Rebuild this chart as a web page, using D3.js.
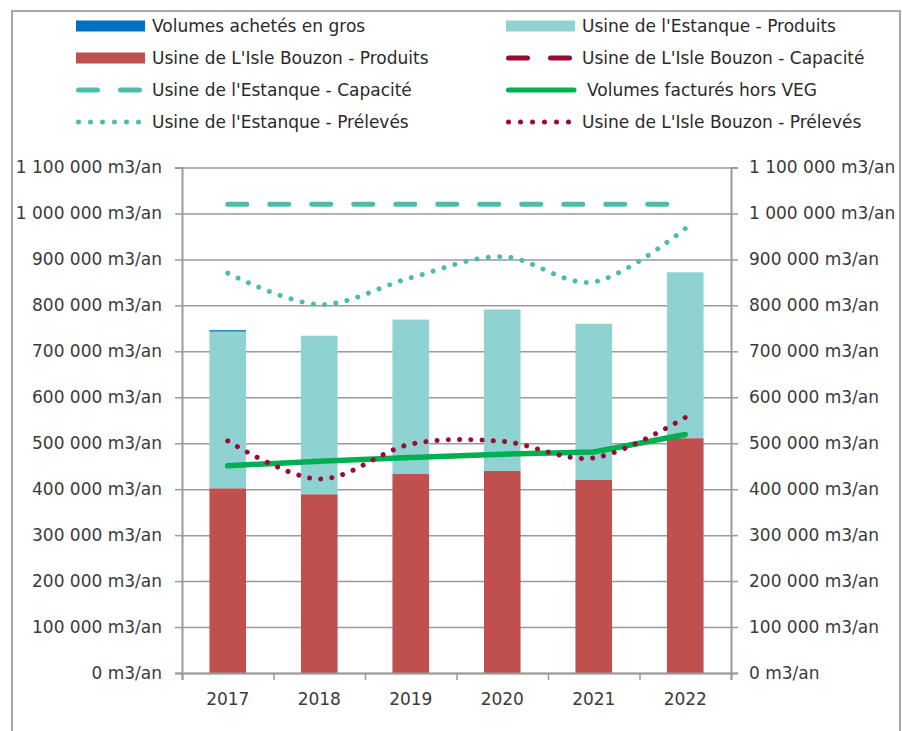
<!DOCTYPE html>
<html lang="fr">
<head>
<meta charset="UTF-8">
<title>Volumes produits et prélevés</title>
<script src="https://d3js.org/d3.v7.min.js"></script>
<style>
    body, html {
        margin: 0;
        padding: 0;
        background: #ffffff;
        overflow: hidden;
    }
    svg {
        font-family: "DejaVu Sans", sans-serif;
    }
    .tick text {
        font-size: 17px;
        fill: #3a3a3a;
    }
    .legend text {
        font-size: 17px;
        fill: #2a2a2a;
    }
</style>
</head>
<body>
<div id="chart"></div>
<script>
// categories
const years = ["2017", "2018", "2019", "2020", "2021", "2022"];

// bars (stacked, bottom to top)
const isleProduits = [402000, 389000, 433000, 440000, 420000, 511000];
const estanqueProduits = [341000, 345000, 336000, 351000, 340000, 361000];
const volumesGros = [3000, 0, 0, 0, 0, 0];

// lines
const estanqueCapacite = [1020000, 1020000, 1020000, 1020000, 1020000, 1020000];
const isleCapacite = [null, null, null, null, null, null]; // not visible on the chart
const volumesFactures = [451000, 461000, 469000, 476000, 481000, 519000];
const estanquePreleves = [870000, 802000, 860000, 906000, 851000, 967000];
const islePreleves = [505000, 422000, 498000, 504000, 468000, 556000];

// axis ticks
const yTicks = d3.range(0, 1100001, 100000);

const width = 902, height = 731;
const plotLeft = 182, plotRight = 731, plotTop = 167.5, plotBottom = 673;

const svg = d3.select("#chart").append("svg")
    .attr("width", width)
    .attr("height", height);

// outer frame
svg.append("rect")
    .attr("x", 12).attr("y", 11)
    .attr("width", 888).attr("height", 740)
    .attr("fill", "none")
    .attr("stroke", "#8c8c8c")
    .attr("stroke-width", 1.5);

const x = d3.scaleBand()
    .domain(years)
    .range([plotLeft, plotRight])
    .paddingInner(0.6)
    .paddingOuter(0.3);

const xEdges = d3.scaleLinear().domain([0, years.length]).range([plotLeft, plotRight]);

const y = d3.scaleLinear()
    .domain([0, 1100000])
    .range([plotBottom, plotTop]);

const fr = d3.formatLocale({ decimal: ",", thousands: " ", grouping: [3], currency: ["", ""] });
const fmt = v => fr.format(",")(v) + " m3/an";

// gridlines
svg.append("g")
    .attr("transform", `translate(${plotLeft},0)`)
    .call(d3.axisLeft(y).tickValues(yTicks).tickSize(-(plotRight - plotLeft)).tickFormat(""))
    .call(g => g.select(".domain").remove())
    .call(g => g.selectAll("line").attr("stroke", "#9a9a9a").attr("stroke-width", 1.5));

// left axis
svg.append("g")
    .attr("transform", `translate(${plotLeft},0)`)
    .call(d3.axisLeft(y).tickValues(yTicks).tickSize(7).tickPadding(13).tickFormat(fmt))
    .call(g => g.select(".domain").attr("stroke", "#9a9a9a").attr("stroke-width", 2))
    .call(g => g.selectAll(".tick line").attr("stroke", "#9a9a9a").attr("stroke-width", 1.5))
    .call(g => g.attr("font-family", null).attr("font-size", null));

// right axis
svg.append("g")
    .attr("transform", `translate(${plotRight},0)`)
    .call(d3.axisRight(y).tickValues(yTicks).tickSize(7).tickPadding(11).tickFormat(fmt))
    .call(g => g.select(".domain").attr("stroke", "#9a9a9a").attr("stroke-width", 2))
    .call(g => g.selectAll(".tick line").attr("stroke", "#9a9a9a").attr("stroke-width", 1.5))
    .call(g => g.attr("font-family", null).attr("font-size", null));

// bars
const table = years.map((yr, i) => ({
    year: yr,
    isle: isleProduits[i],
    estanque: estanqueProduits[i],
    gros: volumesGros[i]
}));
const stack = d3.stack().keys(["isle", "estanque", "gros"])(table);
const barColors = { isle: "#c0504d", estanque: "#8ed2d1", gros: "#0070c0" };

svg.append("g").selectAll("g")
    .data(stack)
    .join("g")
    .attr("fill", d => barColors[d.key])
    .selectAll("rect")
    .data(d => d)
    .join("rect")
    .attr("x", d => x(d.data.year))
    .attr("y", d => y(d[1]))
    .attr("width", x.bandwidth())
    .attr("height", d => y(d[0]) - y(d[1]));

// bottom axis: boundary ticks + year labels
svg.append("g")
    .attr("transform", `translate(0,${plotBottom})`)
    .call(d3.axisBottom(xEdges).tickValues(d3.range(0, years.length + 1)).tickSize(7).tickFormat(""))
    .call(g => g.select(".domain").attr("stroke", "#9a9a9a").attr("stroke-width", 2))
    .call(g => g.selectAll(".tick line").attr("stroke", "#9a9a9a").attr("stroke-width", 1.5));

svg.append("g")
    .attr("transform", `translate(0,${plotBottom})`)
    .call(d3.axisBottom(x).tickSize(0).tickPadding(20))
    .call(g => g.select(".domain").remove())
    .call(g => g.attr("font-family", null).attr("font-size", null));

// lines
const cx = d => x(d.year) + x.bandwidth() / 2;
const series = (vals) => years.map((yr, i) => ({ year: yr, v: vals[i] })).filter(d => d.v != null);

const straight = d3.line().x(cx).y(d => y(d.v));
const smooth = d3.line().x(cx).y(d => y(d.v)).curve(d3.curveCatmullRom.alpha(0));

const lines = [
    { vals: estanqueCapacite, gen: straight, color: "#4dbdab", w: 5, dash: "19 23" },
    { vals: isleCapacite, gen: straight, color: "#990a35", w: 5, dash: "19 23" },
    { vals: volumesFactures, gen: straight, color: "#00b050", w: 5.5, dash: null },
    { vals: estanquePreleves, gen: smooth, color: "#4dbdab", w: 5, dot: 11.5 },
    { vals: islePreleves, gen: smooth, color: "#990a35", w: 5, dot: 11.3 }
];

svg.append("g").selectAll("path")
    .data(lines.filter(l => series(l.vals).length > 1))
    .join("path")
    .attr("d", l => l.gen(series(l.vals)))
    .attr("fill", "none")
    .attr("stroke", l => l.color)
    .attr("stroke-width", l => l.w)
    .attr("stroke-linecap", "round")
    .attr("stroke-linejoin", "round")
    .attr("stroke-dasharray", function(l) {
        if (!l.dot) return l.dash;
        // even dot spacing so that a dot lands on both ends
        const len = this.getTotalLength();
        const gap = len / Math.round(len / l.dot) - 0.02;
        return `0.01 ${gap}`;
    });

// legend
const legendItems = [
    { label: "Volumes achetés en gros", type: "rect", color: "#0070c0", col: 0, row: 0 },
    { label: "Usine de l'Estanque - Produits", type: "rect", color: "#8ed2d1", col: 1, row: 0 },
    { label: "Usine de L'Isle Bouzon - Produits", type: "rect", color: "#c0504d", col: 0, row: 1 },
    { label: "Usine de L'Isle Bouzon - Capacité", type: "line", color: "#990a35", dash: "19 23", col: 1, row: 1 },
    { label: "Usine de l'Estanque - Capacité", type: "line", color: "#4dbdab", dash: "19 23", col: 0, row: 2 },
    { label: "Volumes facturés hors VEG", type: "line", color: "#00b050", dash: null, col: 1, row: 2 },
    { label: "Usine de l'Estanque - Prélevés", type: "line", color: "#4dbdab", dash: "0 12", col: 0, row: 3 },
    { label: "Usine de L'Isle Bouzon - Prélevés", type: "line", color: "#990a35", dash: "0 12", col: 1, row: 3 }
];
const colX = [76, 506];
const rowY = [26, 58, 90, 122];

const leg = svg.append("g").attr("class", "legend")
    .selectAll("g")
    .data(legendItems)
    .join("g")
    .attr("transform", d => `translate(${colX[d.col]},${rowY[d.row]})`);

leg.filter(d => d.type === "rect").append("rect")
    .attr("x", 0).attr("y", -5.5)
    .attr("width", 69).attr("height", 11)
    .attr("fill", d => d.color);

leg.filter(d => d.type === "line").append("line")
    .attr("x1", 2.5).attr("x2", 68)
    .attr("y1", 0).attr("y2", 0)
    .attr("stroke", d => d.color)
    .attr("stroke-width", 5)
    .attr("stroke-linecap", "round")
    .attr("stroke-dasharray", d => d.dash);

leg.append("text")
    .attr("x", d => d.label.startsWith("Volumes factur") ? 81 : 76)
    .attr("y", 0)
    .attr("dy", "0.35em")
    .text(d => d.label);
</script>
</body>
</html>
